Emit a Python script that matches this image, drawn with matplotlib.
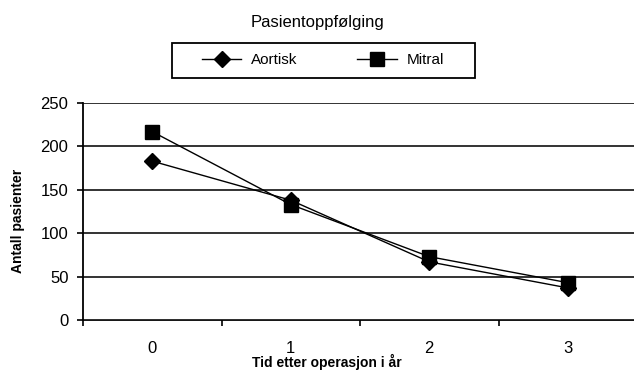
import matplotlib
matplotlib.use("Agg")
import matplotlib.pyplot as plt
from matplotlib.ticker import FixedLocator
from matplotlib.patches import Rectangle

plt.rcParams['font.family'] = ['Liberation Sans', 'DejaVu Sans']

# data
years = [0, 1, 2, 3]
aortisk = [183, 138, 67, 37]
mitral = [217, 133, 73, 43]
yticks = [0, 50, 100, 150, 200, 250]

W, H = 634, 371
fig = plt.figure(figsize=(W / 100, H / 100), dpi=100)
ax = fig.add_axes([83 / W, 51 / H, 554 / W, 217 / H])

ax.plot(years, aortisk, color='black', lw=1, marker='D', ms=8,
        markerfacecolor='black', label='Aortisk')
ax.plot(years, mitral, color='black', lw=1, marker='s', ms=9.5,
        markerfacecolor='black', label='Mitral')

ax.set_xlim(-0.5, 3.5)
ax.set_ylim(0, 250)
ax.set_yticks(yticks)
ax.set_xticks(years)
ax.xaxis.set_minor_locator(FixedLocator([-0.5, 0.5, 1.5, 2.5, 3.5]))
ax.tick_params(axis='x', which='major', length=0, pad=15, labelsize=12)
ax.tick_params(axis='x', which='minor', length=4.5, width=1.2)
ax.tick_params(axis='y', length=4.5, width=1.2, labelsize=12, pad=6)
ax.yaxis.grid(True, color='#333333', lw=1.4)
ax.set_axisbelow(True)
for s in ['top', 'right']:
    ax.spines[s].set_visible(False)
ax.spines['left'].set_linewidth(1.3)
ax.spines['bottom'].set_linewidth(1.3)
ax.spines['bottom'].set_zorder(0.5)

fig.text(317 / W, 1 - 23 / H, 'Pasientoppfølging', ha='center', va='center', fontsize=12)
fig.text(327 / W, 1 - 367.5 / H, 'Tid etter operasjon i år', ha='center', va='baseline',
         fontsize=10, fontweight='bold')
fig.text(18.5 / W, 1 - 221 / H, 'Antall pasienter', ha='center', va='center',
         rotation=90, fontsize=10, fontweight='bold')

# legend box drawn separately so the padding matches
fig.patches.append(Rectangle((172 / W, 1 - 78 / H), 303 / W, 35 / H,
                             transform=fig.transFigure, fill=False,
                             edgecolor='black', lw=1.3))
fig.legend(loc='center', bbox_to_anchor=(323 / W, 1 - 60.5 / H), ncol=2,
           frameon=False, fontsize=11, handlelength=2.6, handletextpad=0.65,
           columnspacing=3.9, borderpad=0, borderaxespad=0)

fig.savefig('out.png', dpi=100)
